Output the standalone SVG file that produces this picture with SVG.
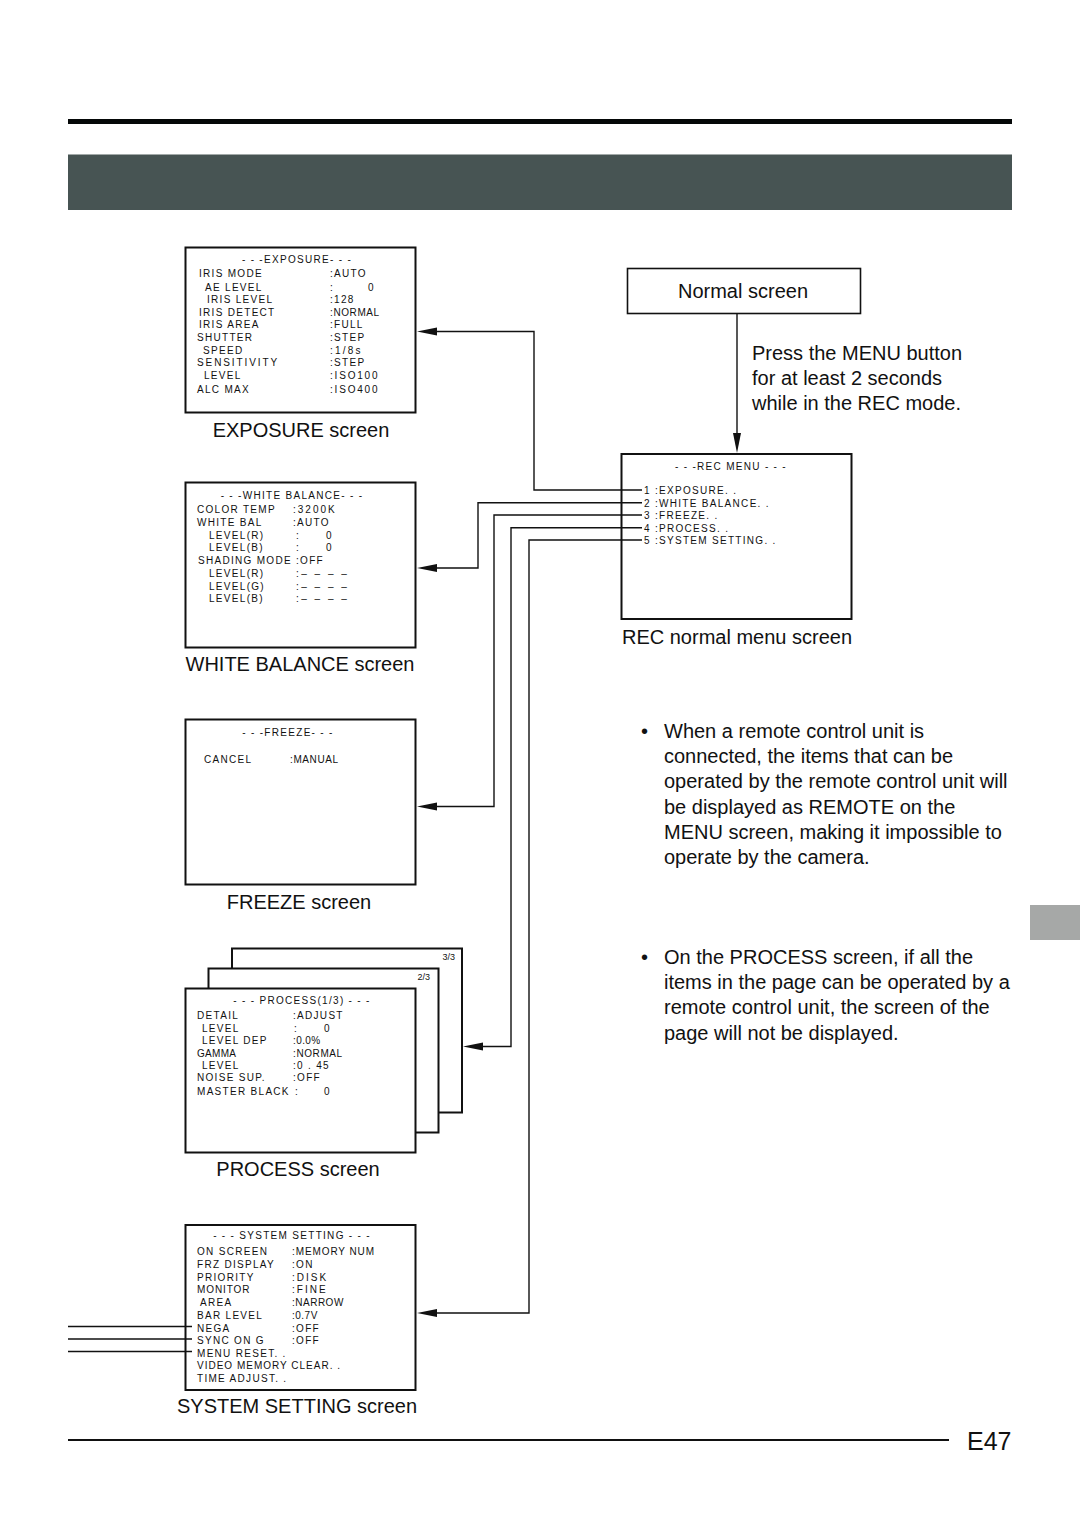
<svg xmlns="http://www.w3.org/2000/svg" width="1080" height="1529" viewBox="0 0 1080 1529">
<style>
.box{fill:#fff;stroke:#111;stroke-width:2}
.o{font-family:"Liberation Sans",Arial,sans-serif;font-size:10px;letter-spacing:1.3px;fill:#111}
.s{font-family:"Liberation Sans",Arial,sans-serif;font-size:9px;fill:#111}
.lbl{font-family:"Liberation Sans",Arial,sans-serif;font-size:20px;fill:#111}
.c{fill:none;stroke:#111;stroke-width:1.4}
.ah{fill:#111}
.mid{text-anchor:middle}
.d{letter-spacing:2.5px}
</style>
<rect x="0" y="0" width="1080" height="1529" fill="#fff"/>
<rect x="68" y="119" width="944" height="5" fill="#050808"/>
<rect x="68" y="154.5" width="944" height="55.5" fill="#475453"/>
<rect x="1030" y="905" width="50" height="35" fill="#a6a8a7"/>

<g id="exposure">
<rect class="box" x="185.5" y="247.5" width="230" height="165"/>
<text class="o mid" x="297" y="263">- - -EXPOSURE- - -</text>
<text class="o" x="199" y="277">IRIS MODE</text><text class="o" x="330" y="277">:AUTO</text>
<text class="o" x="205" y="291">AE LEVEL</text><text class="o" x="330" y="291">:</text><text class="o" x="368" y="291">0</text>
<text class="o" x="207" y="303">IRIS LEVEL</text><text class="o" x="330" y="303">:128</text>
<text class="o" x="199" y="316">IRIS DETECT</text><text class="o" x="330" y="316" style="letter-spacing:0.6px">:NORMAL</text>
<text class="o" x="199" y="328">IRIS AREA</text><text class="o" x="330" y="328">:FULL</text>
<text class="o" x="197" y="341">SHUTTER</text><text class="o" x="330" y="341">:STEP</text>
<text class="o" x="203" y="354">SPEED</text><text class="o" x="330" y="354" style="letter-spacing:2.2px">:1/8s</text>
<text class="o" x="197" y="366" style="letter-spacing:1.9px">SENSITIVITY</text><text class="o" x="330" y="366">:STEP</text>
<text class="o" x="204" y="379">LEVEL</text><text class="o" x="330" y="379" style="letter-spacing:1.8px">:ISO100</text>
<text class="o" x="197" y="393">ALC MAX</text><text class="o" x="330" y="393" style="letter-spacing:1.8px">:ISO400</text>
<text class="lbl mid" x="301" y="437">EXPOSURE screen</text>
</g>

<g id="white-balance">
<rect class="box" x="185.5" y="482.5" width="230" height="165"/>
<text class="o mid" x="292" y="499">- - -WHITE BALANCE- - -</text>
<text class="o" x="197" y="513">COLOR TEMP</text><text class="o" x="293" y="513" style="letter-spacing:2px">:3200K</text>
<text class="o" x="197" y="526">WHITE BAL</text><text class="o" x="293" y="526">:AUTO</text>
<text class="o" x="209" y="539">LEVEL(R)</text><text class="o" x="296" y="539">:</text><text class="o" x="326" y="539">0</text>
<text class="o" x="209" y="551">LEVEL(B)</text><text class="o" x="296" y="551">:</text><text class="o" x="326" y="551">0</text>
<text class="o" x="198" y="564">SHADING MODE</text><text class="o" x="296" y="564">:OFF</text>
<text class="o" x="209" y="577">LEVEL(R)</text><text class="o d" x="296" y="577">:– – – –</text>
<text class="o" x="209" y="590">LEVEL(G)</text><text class="o d" x="296" y="590">:– – – –</text>
<text class="o" x="209" y="602">LEVEL(B)</text><text class="o d" x="296" y="602">:– – – –</text>
<text class="lbl mid" x="300" y="671">WHITE BALANCE screen</text>
</g>

<g id="freeze">
<rect class="box" x="185.5" y="719.5" width="230" height="165"/>
<text class="o mid" x="288" y="736">- - -FREEZE- - -</text>
<text class="o" x="204" y="763">CANCEL</text><text class="o" x="290" y="763" style="letter-spacing:0.6px">:MANUAL</text>
<text class="lbl mid" x="299" y="909">FREEZE screen</text>
</g>

<g id="process">
<rect class="box" x="232" y="948.5" width="230" height="164"/>
<text class="s" x="455" y="960" text-anchor="end">3/3</text>
<rect class="box" x="208.5" y="968.5" width="230" height="164"/>
<text class="s" x="430" y="980" text-anchor="end">2/3</text>
<rect class="box" x="185.5" y="988.5" width="230" height="164"/>
<text class="o mid" x="302" y="1004">- - -  PROCESS(1/3)  - - -</text>
<text class="o" x="197" y="1019">DETAIL</text><text class="o" x="293" y="1019">:ADJUST</text>
<text class="o" x="202" y="1032">LEVEL</text><text class="o" x="294" y="1032">:</text><text class="o" x="324" y="1032">0</text>
<text class="o" x="202" y="1044">LEVEL DEP</text><text class="o" x="293" y="1044" style="letter-spacing:0.4px">:0.0%</text>
<text class="o" x="197" y="1057" style="letter-spacing:0.3px">GAMMA</text><text class="o" x="293" y="1057" style="letter-spacing:0.6px">:NORMAL</text>
<text class="o" x="202" y="1069">LEVEL</text><text class="o" x="293" y="1069">:0 . 45</text>
<text class="o" x="197" y="1081">NOISE SUP.</text><text class="o" x="293" y="1081">:OFF</text>
<text class="o" x="197" y="1095">MASTER BLACK</text><text class="o" x="295" y="1095">:</text><text class="o" x="324" y="1095">0</text>
<text class="lbl mid" x="298" y="1176">PROCESS screen</text>
</g>

<g id="system-setting">
<rect class="box" x="185.5" y="1225" width="230" height="165"/>
<text class="o mid" x="292" y="1239">- - -  SYSTEM SETTING  - - -</text>
<text class="o" x="197" y="1255">ON SCREEN</text><text class="o" x="292" y="1255" style="letter-spacing:0.9px">:MEMORY NUM</text>
<text class="o" x="197" y="1268">FRZ DISPLAY</text><text class="o" x="292" y="1268">:ON</text>
<text class="o" x="197" y="1281">PRIORITY</text><text class="o" x="292" y="1281" style="letter-spacing:2px">:DISK</text>
<text class="o" x="197" y="1293" style="letter-spacing:0.9px">MONITOR</text><text class="o" x="292" y="1293" style="letter-spacing:2px">:FINE</text>
<text class="o" x="200" y="1306">AREA</text><text class="o" x="292" y="1306" style="letter-spacing:0.5px">:NARROW</text>
<text class="o" x="197" y="1319">BAR LEVEL</text><text class="o" x="292" y="1319" style="letter-spacing:0.5px">:0.7V</text>
<text class="o" x="197" y="1332">NEGA</text><text class="o" x="292" y="1332">:OFF</text>
<text class="o" x="197" y="1344">SYNC ON G</text><text class="o" x="292" y="1344">:OFF</text>
<text class="o" x="197" y="1357">MENU RESET. .</text>
<text class="o" x="197" y="1369" style="letter-spacing:1px">VIDEO MEMORY CLEAR. .</text>
<text class="o" x="197" y="1382">TIME ADJUST. .</text>
<text class="lbl mid" x="297" y="1413">SYSTEM SETTING screen</text>
</g>

<g id="normal-screen">
<rect x="627.5" y="268.5" width="233" height="45" fill="#fff" stroke="#111" stroke-width="1.6"/>
<text class="lbl mid" x="743" y="298">Normal screen</text>
</g>

<g id="rec-menu">
<rect class="box" x="621.5" y="454" width="230" height="165"/>
<text class="o mid" x="731" y="470">- - -REC MENU  - - -</text>
<text class="o" x="644" y="494">1 :EXPOSURE. .</text>
<text class="o" x="644" y="506.5">2 :WHITE BALANCE. .</text>
<text class="o" x="644" y="519">3 :FREEZE. .</text>
<text class="o" x="644" y="531.5">4 :PROCESS. .</text>
<text class="o" x="644" y="544">5 :SYSTEM SETTING. .</text>
<text class="lbl mid" x="737" y="644">REC normal menu screen</text>
</g>

<g id="instruction">
<text class="lbl" x="752" y="360">Press the MENU button</text>
<text class="lbl" x="752" y="385">for at least 2 seconds</text>
<text class="lbl" x="752" y="410">while in the REC mode.</text>
</g>

<g id="notes">
<text class="lbl" x="641" y="738">•</text>
<text class="lbl" x="664" y="738">When a remote control unit is</text>
<text class="lbl" x="664" y="763">connected, the items that can be</text>
<text class="lbl" x="664" y="788">operated by the remote control unit will</text>
<text class="lbl" x="664" y="814">be displayed as REMOTE on the</text>
<text class="lbl" x="664" y="839">MENU screen, making it impossible to</text>
<text class="lbl" x="664" y="864">operate by the camera.</text>
<text class="lbl" x="641" y="964">•</text>
<text class="lbl" x="664" y="964">On the PROCESS screen, if all the</text>
<text class="lbl" x="664" y="989">items in the page can be operated by a</text>
<text class="lbl" x="664" y="1014">remote control unit, the screen of the</text>
<text class="lbl" x="664" y="1040">page will not be displayed.</text>
</g>

<g id="connectors">
<path class="c" d="M737 314 V436"/>
<polygon class="ah" points="737,453 733,433 741,433"/>
<path class="c" d="M642 490 H534 V331.5 H435"/>
<polygon class="ah" points="417,331.5 437,327.5 437,335.5"/>
<path class="c" d="M642 502.7 H478 V568 H435"/>
<polygon class="ah" points="417,568 437,564 437,572"/>
<path class="c" d="M642 515 H494 V806.5 H435"/>
<polygon class="ah" points="417,806.5 437,802.5 437,810.5"/>
<path class="c" d="M642 527.7 H511 V1046.5 H480"/>
<polygon class="ah" points="463,1046.5 483,1042.5 483,1050.5"/>
<path class="c" d="M642 540 H529 V1313 H435"/>
<polygon class="ah" points="417,1313 437,1309 437,1317"/>
<path class="c" d="M68 1326.5 H192"/>
<path class="c" d="M68 1339 H192"/>
<path class="c" d="M68 1351.5 H192" stroke-width="1.1"/>
</g>

<rect x="68" y="1439" width="881" height="2" fill="#111"/>
<text x="967" y="1450" font-family="'Liberation Sans',Arial,sans-serif" font-size="25" fill="#111">E47</text>
</svg>
